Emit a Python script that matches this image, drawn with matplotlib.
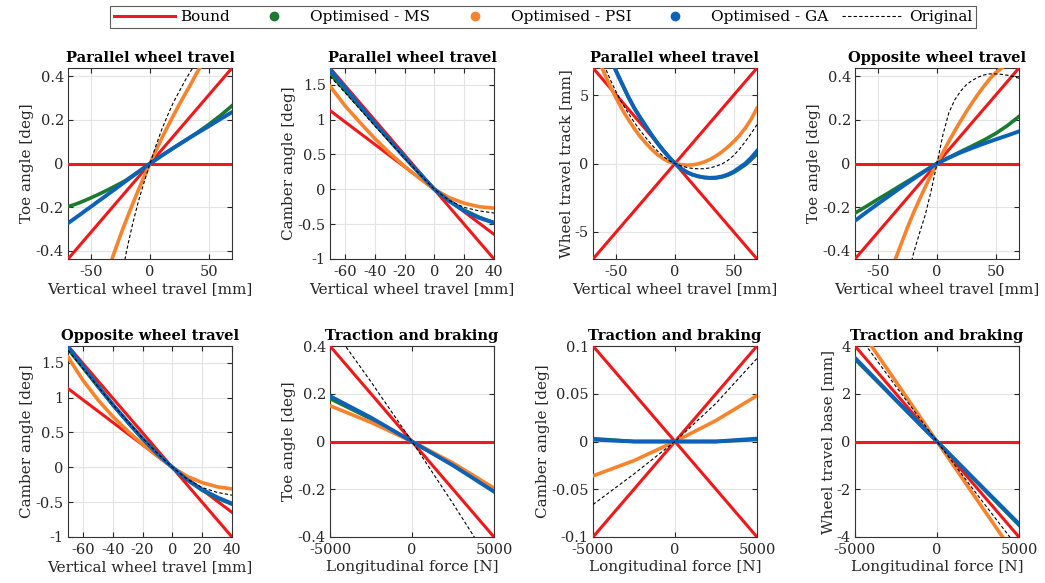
import numpy as np
import matplotlib.pyplot as plt
from matplotlib.lines import Line2D

plt.rcParams['font.family'] = ['DejaVu Serif']

RED = '#f01818'
GREEN = '#1b7a2e'
ORANGE = '#f7832d'
BLUE = '#0c62b8'

### data

# Parallel wheel travel - toe
x_par = [-70, -65, -60, -55, -50, -45, -40, -35, -30, -25, -20, -10, 0, 10, 20, 30, 40, 50, 60, 70]
toe_par_ms = [-0.197, -0.189, -0.179, -0.168, -0.156, -0.144, -0.131, -0.118, -0.104, -0.09, -0.075, -0.038, 0,
              0.036, 0.071, 0.105, 0.14, 0.178, 0.219, 0.264]
toe_par_ga = [-0.273, -0.254, -0.235, -0.215, -0.196, -0.176, -0.157, -0.137, -0.118, -0.098, -0.078, -0.039, 0,
              0.036, 0.071, 0.105, 0.138, 0.17, 0.203, 0.235]
x_par_psi = [-40, -35, -30, -25, -20, -15, -10, -5, 0, 5, 10, 15, 20, 25, 30, 35, 40, 45]
toe_par_psi = [-0.56, -0.475, -0.40, -0.325, -0.255, -0.188, -0.122, -0.06, 0, 0.058, 0.115, 0.168, 0.22,
               0.27, 0.318, 0.365, 0.415, 0.46]
x_par_orig = [-25, -20, -15, -10, -5, 0, 5, 10, 15, 20, 25, 30, 35, 40]
toe_par_orig = [-0.54, -0.40, -0.28, -0.175, -0.085, 0, 0.08, 0.155, 0.22, 0.28, 0.33, 0.38, 0.425, 0.465]
toe_bound_x = [-70, 70]
toe_bound_hi = [-0.437, 0.437]
toe_bound_lo = [0, 0]

# Parallel wheel travel - camber
x_cam = [-70, -60, -50, -40, -30, -20, -10, 0, 10, 20, 30, 40]
cam_par_ms = [1.66, 1.42, 1.18, 0.94, 0.70, 0.46, 0.23, 0, -0.17, -0.30, -0.40, -0.48]
cam_par_ga = [1.72, 1.46, 1.20, 0.95, 0.70, 0.46, 0.23, 0, -0.17, -0.31, -0.41, -0.48]
cam_par_psi = [1.48, 1.20, 0.96, 0.73, 0.52, 0.33, 0.16, 0, -0.12, -0.20, -0.25, -0.27]
cam_par_orig = [1.62, 1.39, 1.15, 0.91, 0.68, 0.45, 0.22, 0, -0.16, -0.26, -0.31, -0.34]
cam_bound_x = [-70, 40]
cam_bound_hi = [1.74, -1.0]
cam_bound_lo = [1.13, -0.646]

# Parallel wheel travel - track
x_trk = [-70, -65, -60, -55, -50, -45, -40, -35, -30, -25, -20, -15, -10, -5, 0,
         5, 10, 15, 20, 25, 30, 35, 40, 45, 50, 55, 60, 65, 70]
track_ga = [10.8, 9.7, 8.7, 7.7, 6.7, 5.8, 4.9, 4.1, 3.4, 2.75, 2.1, 1.5, 0.95, 0.45, 0,
            -0.36, -0.63, -0.82, -0.94, -1.02, -1.05, -1.03, -0.95, -0.81, -0.6, -0.3, 0.0, 0.42, 0.92]
track_ms = [10.9, 9.8, 8.8, 7.8, 6.75, 5.82, 4.92, 4.1, 3.4, 2.75, 2.1, 1.5, 0.95, 0.45, 0,
            -0.36, -0.63, -0.82, -0.95, -1.03, -1.07, -1.06, -0.99, -0.86, -0.66, -0.39, -0.1, 0.28, 0.7]
track_psi = [8.6, 7.55, 6.55, 5.6, 4.75, 3.95, 3.25, 2.6, 2.0, 1.5, 1.05, 0.65, 0.35, 0.12, 0,
             -0.08, -0.12, -0.1, -0.02, 0.12, 0.3, 0.55, 0.85, 1.2, 1.6, 2.05, 2.6, 3.25, 4.05]
track_orig = [9.1, 8.1, 7.1, 6.1, 5.2, 4.4, 3.7, 3.05, 2.45, 1.9, 1.38, 0.92, 0.52, 0.2, 0,
              -0.17, -0.29, -0.36, -0.39, -0.38, -0.32, -0.2, -0.04, 0.22, 0.58, 1.05, 1.6, 2.2, 2.85]
track_bound_x = [-70, 70]
track_bound_hi = [-7, 7]
track_bound_lo = [7, -7]

# Opposite wheel travel - toe
x_opp = [-70, -60, -50, -40, -30, -20, -10, 0, 10, 20, 30, 40, 50, 60, 70]
toe_opp_ms = [-0.227, -0.195, -0.162, -0.13, -0.097, -0.065, -0.032, 0, 0.027, 0.054, 0.08, 0.107, 0.137, 0.173, 0.215]
toe_opp_ga = [-0.262, -0.222, -0.183, -0.145, -0.107, -0.07, -0.034, 0, 0.026, 0.05, 0.071, 0.091, 0.11, 0.128, 0.147]
x_opp_psi = [-40, -35, -30, -25, -20, -15, -10, -5, 0, 5, 10, 15, 20, 25, 30, 35, 40, 45, 50, 55, 60]
toe_opp_psi = [-0.50, -0.43, -0.36, -0.29, -0.225, -0.165, -0.107, -0.052, 0, 0.05, 0.10, 0.148, 0.193,
               0.237, 0.278, 0.317, 0.353, 0.387, 0.415, 0.436, 0.455]
x_opp_orig = [-25, -20, -15, -10, -5, 0, 5, 10, 15, 20, 25, 30, 35, 40, 45, 50, 55, 60, 65, 70]
toe_opp_orig = [-0.52, -0.41, -0.32, -0.235, -0.125, 0, 0.13, 0.23, 0.29, 0.33, 0.36, 0.38, 0.395, 0.405,
                0.41, 0.41, 0.408, 0.404, 0.398, 0.39]

# Opposite wheel travel - camber
cam_opp_ms = [1.70, 1.43, 1.16, 0.90, 0.65, 0.41, 0.19, 0, -0.18, -0.33, -0.44, -0.53]
cam_opp_ga = [1.73, 1.45, 1.17, 0.90, 0.65, 0.41, 0.19, 0, -0.18, -0.32, -0.43, -0.52]
cam_opp_psi = [1.58, 1.25, 0.97, 0.73, 0.52, 0.33, 0.16, 0, -0.13, -0.22, -0.28, -0.31]
cam_opp_orig = [1.68, 1.42, 1.16, 0.90, 0.66, 0.42, 0.2, 0, -0.17, -0.29, -0.36, -0.40]

# Traction and braking
x_force = [-5000, -2500, 0, 2500, 5000]
tb_toe_ms = [0.18, 0.095, 0, -0.098, -0.20]
tb_toe_ga = [0.19, 0.10, 0, -0.10, -0.21]
tb_toe_psi = [0.15, 0.08, 0, -0.09, -0.195]
tb_toe_orig = [0.49, 0.25, 0, -0.26, -0.53]
tb_toe_bound_hi = [0.4, -0.4]
tb_toe_bound_lo = [0, 0]

tb_cam_ms = [0.003, 0.0, 0, 0.0, 0.002]
tb_cam_ga = [0.002, 0.0, 0, 0.0, 0.003]
tb_cam_psi = [-0.036, -0.02, 0, 0.022, 0.048]
tb_cam_orig = [-0.066, -0.034, 0, 0.04, 0.087]
tb_cam_bound_hi = [-0.1, 0.1]
tb_cam_bound_lo = [0.1, -0.1]

tb_base_ms = [3.45, 1.72, 0, -1.75, -3.5]
tb_base_ga = [3.5, 1.74, 0, -1.73, -3.45]
tb_base_psi = [5.0, 2.5, 0, -2.5, -5.0]
tb_base_orig = [4.65, 2.3, 0, -2.27, -4.5]
tb_base_bound_hi = [4, -4]
tb_base_bound_lo = [0, 0]
force_bound_x = [-5000, 5000]


### figure

fig = plt.figure(figsize=(10.45, 5.83), dpi=100)

W, H = 1045, 583
lefts = [68, 330, 593, 855]
tops = [68, 346]
aw, ah = 164, 191


def make_ax(row, col):
    l = lefts[col] / W
    b = (H - tops[row] - ah) / H
    ax = fig.add_axes([l, b, aw / W, ah / H])
    ax.grid(True, color='#e3e3e3', linewidth=0.8)
    ax.set_axisbelow(True)
    ax.tick_params(direction='in', top=True, right=True, length=3.5,
                   labelsize=10.5, colors='#262626', pad=3)
    ax.tick_params(axis='x', pad=4.5)
    for s in ax.spines.values():
        s.set_color('#333333')
        s.set_linewidth(0.8)
    return ax


def draw(ax, bx, bounds, x, ms, psi, ga, orig, xp=None, xo=None):
    for b in bounds:
        ax.plot(bx, b, color=RED, lw=2.2, zorder=3)
    ax.plot(x, ms, color=GREEN, lw=2.6, zorder=4)
    ax.plot(xp if xp is not None else x, psi, color=ORANGE, lw=2.6, zorder=5)
    ax.plot(x, ga, color=BLUE, lw=2.8, zorder=6)
    ax.plot(xo if xo is not None else x, orig, color='black', lw=0.8, ls=(0, (3, 2)), zorder=7)


def deco(ax, title, xlabel, ylabel):
    ax.set_title(title, fontsize=10.5, fontweight='bold', pad=4)
    ax.set_xlabel(xlabel, fontsize=11, color='#262626', labelpad=2)
    ax.set_ylabel(ylabel, fontsize=11, color='#262626', labelpad=1)


vwt = 'Vertical wheel travel [mm]'
lf = 'Longitudinal force [N]'

# row 1
ax = make_ax(0, 0)
draw(ax, toe_bound_x, [toe_bound_hi, toe_bound_lo], x_par, toe_par_ms, toe_par_psi,
     toe_par_ga, toe_par_orig, xp=x_par_psi, xo=x_par_orig)
ax.set_xlim(-70, 70); ax.set_ylim(-0.437, 0.437)
ax.set_xticks([-50, 0, 50]); ax.set_yticks([-0.4, -0.2, 0, 0.2, 0.4])
ax.set_yticklabels(['-0.4', '-0.2', '0', '0.2', '0.4'])
ax.set_xticklabels(['-50', '0', '50'])
deco(ax, 'Parallel wheel travel', vwt, 'Toe angle [deg]')

ax = make_ax(0, 1)
draw(ax, cam_bound_x, [cam_bound_hi, cam_bound_lo], x_cam, cam_par_ms, cam_par_psi,
     cam_par_ga, cam_par_orig)
ax.set_xlim(-70, 40); ax.set_ylim(-1, 1.74)
ax.set_xticks([-60, -40, -20, 0, 20, 40]); ax.set_yticks([-1, -0.5, 0, 0.5, 1, 1.5])
ax.set_xticklabels(['-60', '-40', '-20', '0', '20', '40'])
ax.set_yticklabels(['-1', '-0.5', '0', '0.5', '1', '1.5'])
deco(ax, 'Parallel wheel travel', vwt, 'Camber angle [deg]')

ax = make_ax(0, 2)
draw(ax, track_bound_x, [track_bound_hi, track_bound_lo], x_trk, track_ms, track_psi,
     track_ga, track_orig)
ax.set_xlim(-70, 70); ax.set_ylim(-7, 7)
ax.set_xticks([-50, 0, 50]); ax.set_yticks([-5, 0, 5])
ax.set_xticklabels(['-50', '0', '50']); ax.set_yticklabels(['-5', '0', '5'])
deco(ax, 'Parallel wheel travel', vwt, 'Wheel travel track [mm]')

ax = make_ax(0, 3)
draw(ax, toe_bound_x, [toe_bound_hi, toe_bound_lo], x_opp, toe_opp_ms, toe_opp_psi,
     toe_opp_ga, toe_opp_orig, xp=x_opp_psi, xo=x_opp_orig)
ax.set_xlim(-70, 70); ax.set_ylim(-0.437, 0.437)
ax.set_xticks([-50, 0, 50]); ax.set_yticks([-0.4, -0.2, 0, 0.2, 0.4])
ax.set_yticklabels(['-0.4', '-0.2', '0', '0.2', '0.4'])
ax.set_xticklabels(['-50', '0', '50'])
deco(ax, 'Opposite wheel travel', vwt, 'Toe angle [deg]')

# row 2
ax = make_ax(1, 0)
draw(ax, cam_bound_x, [cam_bound_hi, cam_bound_lo], x_cam, cam_opp_ms, cam_opp_psi,
     cam_opp_ga, cam_opp_orig)
ax.set_xlim(-70, 40); ax.set_ylim(-1, 1.74)
ax.set_xticks([-60, -40, -20, 0, 20, 40]); ax.set_yticks([-1, -0.5, 0, 0.5, 1, 1.5])
ax.set_xticklabels(['-60', '-40', '-20', '0', '20', '40'])
ax.set_yticklabels(['-1', '-0.5', '0', '0.5', '1', '1.5'])
deco(ax, 'Opposite wheel travel', vwt, 'Camber angle [deg]')

ax = make_ax(1, 1)
draw(ax, force_bound_x, [tb_toe_bound_hi, tb_toe_bound_lo], x_force, tb_toe_ms, tb_toe_psi,
     tb_toe_ga, tb_toe_orig)
ax.set_xlim(-5000, 5000); ax.set_ylim(-0.4, 0.4)
ax.set_xticks([-5000, 0, 5000]); ax.set_yticks([-0.4, -0.2, 0, 0.2, 0.4])
ax.set_xticklabels(['-5000', '0', '5000'])
ax.set_yticklabels(['-0.4', '-0.2', '0', '0.2', '0.4'])
deco(ax, 'Traction and braking', lf, 'Toe angle [deg]')

ax = make_ax(1, 2)
draw(ax, force_bound_x, [tb_cam_bound_hi, tb_cam_bound_lo], x_force, tb_cam_ms, tb_cam_psi,
     tb_cam_ga, tb_cam_orig)
ax.set_xlim(-5000, 5000); ax.set_ylim(-0.1, 0.1)
ax.set_xticks([-5000, 0, 5000]); ax.set_yticks([-0.1, -0.05, 0, 0.05, 0.1])
ax.set_xticklabels(['-5000', '0', '5000'])
ax.set_yticklabels(['-0.1', '-0.05', '0', '0.05', '0.1'])
deco(ax, 'Traction and braking', lf, 'Camber angle [deg]')

ax = make_ax(1, 3)
draw(ax, force_bound_x, [tb_base_bound_hi, tb_base_bound_lo], x_force, tb_base_ms, tb_base_psi,
     tb_base_ga, tb_base_orig)
ax.set_xlim(-5000, 5000); ax.set_ylim(-4, 4)
ax.set_xticks([-5000, 0, 5000]); ax.set_yticks([-4, -2, 0, 2, 4])
ax.set_xticklabels(['-5000', '0', '5000'])
ax.set_yticklabels(['-4', '-2', '0', '2', '4'])
deco(ax, 'Traction and braking', lf, 'Wheel travel base [mm]')

# legend
handles = [
    Line2D([], [], color=RED, lw=2.2),
    Line2D([], [], color=GREEN, marker='o', ls='none', markersize=6),
    Line2D([], [], color=ORANGE, marker='o', ls='none', markersize=6),
    Line2D([], [], color=BLUE, marker='o', ls='none', markersize=6),
    Line2D([], [], color='black', lw=0.8, ls=(0, (3, 2))),
]
labels = ['Bound', 'Optimised - MS', 'Optimised - PSI', 'Optimised - GA', 'Original']
leg = fig.legend(handles, labels, loc='center', bbox_to_anchor=(543 / W, 1 - 17 / H),
                 ncol=5, fontsize=11, frameon=True, fancybox=False,
                 handlelength=4.0, columnspacing=0.9, borderpad=0.25, handletextpad=0.35)
leg.get_frame().set_edgecolor('#333333')
leg.get_frame().set_linewidth(0.8)

fig.savefig('out.png', dpi=100)
